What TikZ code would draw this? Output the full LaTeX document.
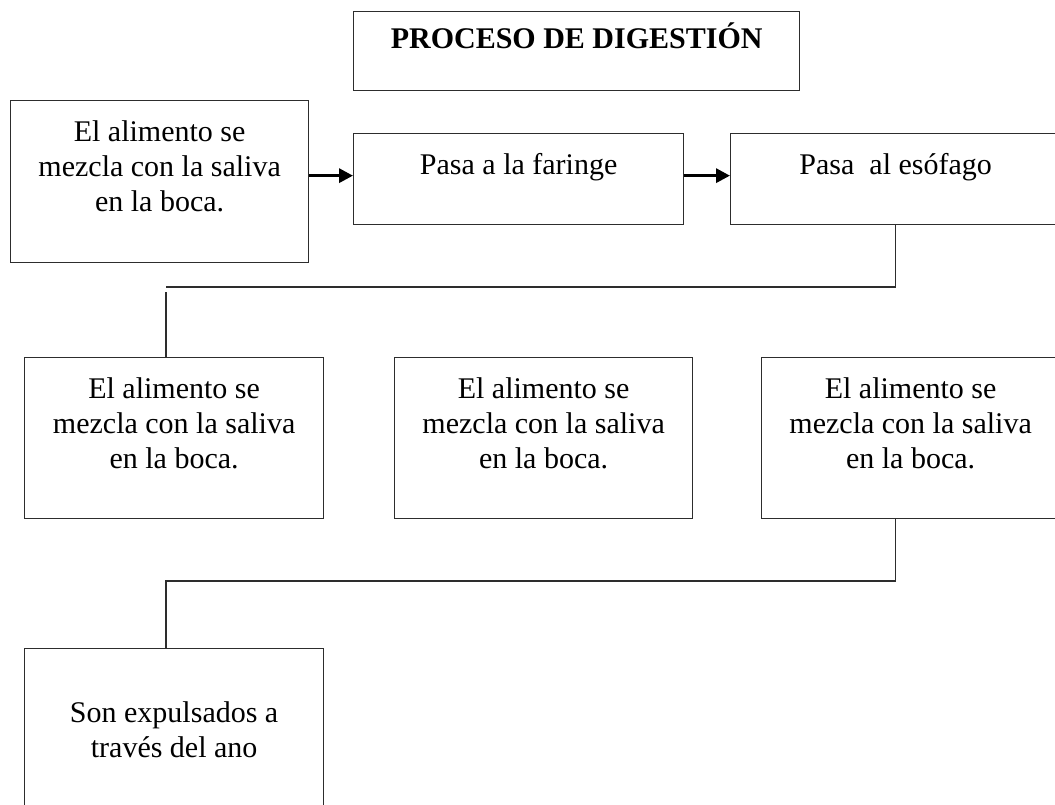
\documentclass[tikz,border=0pt]{standalone}
\usepackage{fontspec}
\setmainfont{Liberation Serif}
\usetikzlibrary{positioning,arrows.meta}
\definecolor{borde}{RGB}{45,45,45}
\tikzset{
	caja/.style={draw=borde,line width=1.3pt,rectangle,inner sep=0pt},
	texto/.style={align=center,inner sep=0pt,font=\fontsize{30}{35}\selectfont},
	flecha/.style={line width=3.2pt,-{Triangle[length=14pt,width=14pt]}},
	conector/.style={draw=borde,line width=1.3pt},
}
% caja: nombre, x, y (esquina sup. izq.), ancho, alto, bajada del texto, texto
\newcommand{\Caja}[7]{%
	\node[caja,anchor=north west,minimum width=#4pt,minimum height=#5pt] (#1) at (#2,#3) {};
	\node[texto,below=#6pt of #1.north] (#1-t) {#7};
}

\begin{document}
\begin{tikzpicture}[x=1pt,y=-1pt]
	
	% marco de la imagen
	\path[use as bounding box,clip] (0,0) rectangle (1055,805);
	
	% titulo
	\node[caja,anchor=north west,minimum width=446pt,minimum height=79pt] (titulo) at (353,11) {};
	\node[texto,font=\fontsize{30}{35}\selectfont\bfseries,below=12pt of titulo.north] (titulo-t) {PROCESO DE DIGESTIÓN};
	
	% --- primera fila ---
	\Caja{boca}{10}{100}{298}{162}{20}{El alimento se\\mezcla con la saliva\\en la boca.}
	\Caja{faringe}{353}{133}{330}{91}{20}{Pasa a la faringe}
	\Caja{esofago}{730}{133}{330}{91}{20}{Pasa\ \ al esófago}
	
	\draw[flecha] ([yshift=3.5pt]boca.east |- faringe.west) -- ([yshift=3.5pt]faringe.west);
	\draw[flecha] ([yshift=3.5pt]faringe.east) -- ([yshift=3.5pt]esofago.west);
	
	% --- segunda fila ---
	\Caja{mezcla1}{24}{357}{299}{161}{20}{El alimento se\\mezcla con la saliva\\en la boca.}
	\Caja{mezcla2}{394}{357}{298}{161}{20}{El alimento se\\mezcla con la saliva\\en la boca.}
	\Caja{mezcla3}{761}{357}{298}{161}{20}{El alimento se\\mezcla con la saliva\\en la boca.}
	
	% --- ultima caja ---
	\Caja{ano}{24}{648}{299}{161}{53}{Son expulsados a\\través del ano}
	
	% conectores
	\coordinate (codo1) at (166,287);
	\coordinate (codo2) at (166,581);
	\draw[conector] (esofago.south) |- (codo1);
	\draw[conector] ([yshift=-5pt]codo1) -- (mezcla1.north -| codo1);
	\draw[conector] (mezcla3.south -| esofago.south) |- (codo2) -- (ano.north -| codo2);
	
\end{tikzpicture}
\end{document}
